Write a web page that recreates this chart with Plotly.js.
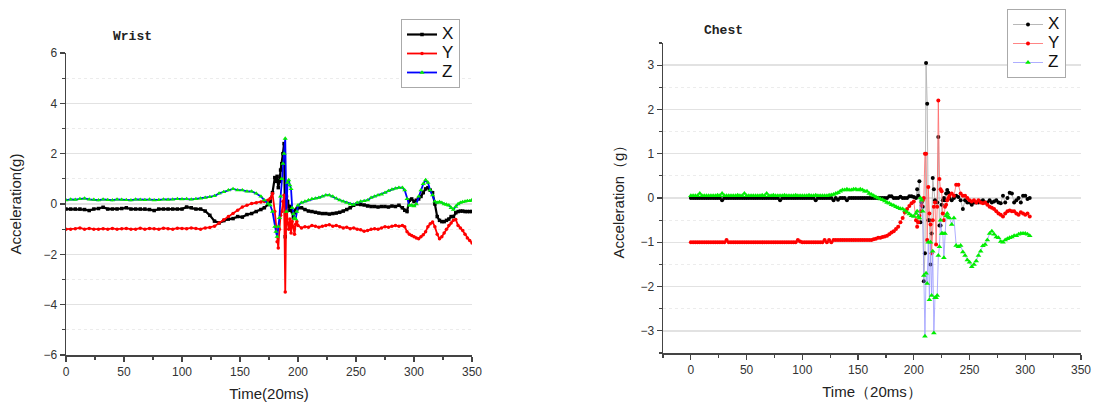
<!DOCTYPE html>
<html>
<head>
<meta charset="utf-8">
<script src="https://cdn.plot.ly/plotly-3.0.1.min.js"></script>
<style>html,body{margin:0;padding:0;background:#fff;}#chart{width:1093px;height:406px;}</style>
</head>
<body>
<div id="chart"></div>
<script>
// ---------- Wrist (left) ----------
var wristTime = [0,4,8,12,16,20,24,28,32,36,40,44,48,52,56,60,64,68,72,76,80,84,88,92,96,100,104,108,112,116,120,124,128,132,136,140,144,148,152,156,160,164,168,
  171,174,176,178,
  180,181,182,183,184,185,186,187,188,189,190,191,192,193,194,195,196,197,198,199,200,
  203,206,209,212,215,218,221,224,227,230,233,236,239,242,245,248,251,254,257,260,263,266,269,272,275,278,281,284,287,
  290,292,294,296,298,300,302,304,306,308,310,312,314,316,318,320,322,324,326,328,330,332,334,336,338,340,342,344,346,348,350];
var wristX = [-0.2,-0.2,-0.2,-0.2,-0.22,-0.26,-0.2,-0.18,-0.13,-0.2,-0.2,-0.2,-0.18,-0.15,-0.2,-0.2,-0.2,-0.2,-0.22,-0.26,-0.2,-0.2,-0.2,-0.2,-0.2,-0.2,-0.12,-0.15,-0.2,-0.2,-0.28,-0.45,-0.68,-0.75,-0.66,-0.6,-0.58,-0.5,-0.52,-0.42,-0.38,-0.3,-0.22,
  -0.15,-0.02,0.1,0.45,
  1.05,0.9,1.1,0.65,0.9,1.35,1.6,2.0,2.4,-1.3,0.3,0.1,-0.1,-0.25,-0.1,-0.3,-0.55,-0.35,-0.25,-0.2,-0.15,
  -0.15,-0.22,-0.28,-0.3,-0.33,-0.36,-0.38,-0.38,-0.4,-0.38,-0.36,-0.33,-0.28,-0.22,-0.15,-0.05,0.0,-0.02,-0.04,-0.08,-0.1,-0.1,-0.12,-0.1,-0.1,-0.12,-0.08,-0.1,-0.05,
  -0.15,-0.25,-0.3,0.15,0.2,0.1,0.15,0.2,0.3,0.45,0.6,0.65,0.55,0.45,0.0,-0.5,-0.65,-0.7,-0.7,-0.65,-0.6,-0.5,-0.5,-0.35,-0.3,-0.28,-0.28,-0.3,-0.3,-0.3,-0.3];
var wristY = [-1.0,-1.0,-0.98,-0.95,-1.0,-0.97,-1.0,-1.0,-0.98,-1.0,-0.97,-1.0,-0.98,-0.97,-1.0,-1.0,-0.96,-1.0,-0.97,-0.98,-1.0,-0.96,-0.98,-1.0,-0.96,-0.97,-0.98,-0.95,-0.97,-1.0,-0.95,-0.93,-0.88,-0.75,-0.63,-0.5,-0.38,-0.25,-0.12,-0.05,0.02,0.05,0.08,
  0.1,0.15,0.22,0.42,
  -0.3,-0.9,-1.5,-1.75,-1.0,-0.45,-0.3,0.1,0.35,-3.5,0.3,-0.75,-1.0,-0.6,-1.15,-0.7,-0.9,-1.2,-0.8,-0.7,-0.85,
  -0.95,-0.9,-0.92,-0.85,-0.88,-0.92,-0.88,-0.85,-0.82,-0.88,-0.85,-0.9,-0.95,-0.92,-0.98,-0.95,-1.0,-1.02,-1.08,-1.05,-1.0,-0.98,-1.0,-0.95,-0.9,-0.92,-0.88,-0.85,-0.88,
  -0.85,-0.9,-1.1,-1.2,-1.25,-1.3,-1.35,-1.38,-1.3,-1.22,-1.1,-0.9,-0.78,-0.72,-0.9,-1.2,-1.38,-1.3,-1.15,-1.0,-0.85,-0.75,-0.65,-0.62,-0.85,-0.95,-1.05,-1.2,-1.35,-1.45,-1.55];
var wristZ = [0.15,0.18,0.17,0.2,0.22,0.18,0.17,0.15,0.18,0.16,0.15,0.18,0.17,0.16,0.15,0.18,0.17,0.16,0.18,0.15,0.16,0.18,0.17,0.18,0.2,0.19,0.2,0.18,0.2,0.22,0.25,0.28,0.32,0.42,0.48,0.55,0.6,0.55,0.55,0.5,0.5,0.42,0.3,
  0.15,0.02,-0.04,-0.3,
  -0.9,-1.1,-1.3,-0.9,-0.55,0.3,1.0,1.6,2.0,2.6,-0.3,0.85,0.95,0.75,0.6,-0.15,-0.4,-0.55,-0.6,-0.3,-0.05,
  0.05,0.1,0.15,0.2,0.22,0.25,0.3,0.35,0.35,0.3,0.22,0.15,0.1,0.05,0.0,-0.02,0.05,0.1,0.12,0.15,0.25,0.3,0.35,0.38,0.45,0.52,0.58,0.62,0.65,
  0.65,0.55,0.2,-0.05,-0.05,-0.08,0.0,0.3,0.55,0.8,0.95,0.85,0.55,0.35,0.1,0.05,0.08,0.05,0.0,-0.02,-0.05,-0.15,-0.22,-0.1,0.0,0.05,0.08,0.1,0.12,0.12,0.16];

// ---------- Chest (right) ----------
var chestTime = [0,2,4,6,8,10,12,14,16,18,20,22,24,26,28,30,32,34,36,38,40,42,44,46,48,50,52,54,56,58,60,62,64,66,68,70,72,74,76,78,
  80,82,84,86,88,90,92,94,96,98,100,102,104,106,108,110,112,114,116,118,120,122,124,126,128,130,132,134,136,138,
  140,142,144,146,148,150,152,154,156,158,160,162,164,166,168,170,172,174,176,178,180,182,184,186,188,190,192,194,196,198,200,
  202,203,204,205,206,207,208,209,210,211,212,213,214,215,216,217,218,219,220,221,222,223,224,225,226,227,228,229,230,231,232,
  234,236,238,240,242,244,246,248,250,252,254,256,258,260,262,264,266,268,270,272,274,276,278,280,282,284,286,288,290,292,294,296,298,300,302,304];
var chestX = [0,0,0,0,0, 0,0,0,0,0, 0,0,0,0,-0.05, 0,0,0,0,0, 0,0,0,0,0, 0,0,0,0,0, 0,0,0,0,0, 0,0,0,0,0,
  -0.05,0,0,0,0, 0,0,0,0,0, 0,0,0,0,0, 0,-0.05,0,0,0, 0,0,0,0,-0.05, 0,-0.04,0,0,0,
  -0.05,0,0,0,0, 0,0,0,0,0, 0,0,0,0,0, 0,0,0,0,0.04, 0.04,0,0,0,0.03, 0,0,0,0.04,0.04, 0.02,
  0.0,0.2,0.05,0.38,-0.55,-0.1,-0.2,-1.88,-1.25,3.05,2.13,-0.5,-0.5,-1.5,-0.8,0.45,0.2,-0.05,-0.08,-0.1,1.38,-0.62,-0.62,-0.15,-0.05,0.0,-0.05,0.1,0.18,0.12,0.0,
  -0.05,0.0,0.05,0.02,-0.05,-0.25,-0.05,-0.1,-0.1,-0.15,-0.1,-0.1,-0.1,-0.08,-0.05,-0.1,-0.1,-0.05,-0.1,-0.08,-0.05,-0.1,-0.12,0.05,-0.1,0.0,0.12,0.1,-0.1,-0.05,0.0,-0.1,0.05,0.05,-0.02,0.0];
var chestY = [-1,-1,-1,-1,-1, -1,-1,-1,-1,-1, -1,-1,-1,-1,-1, -1,-0.95,-1,-1,-1, -1,-1,-1,-1,-1, -1,-1,-1,-1,-1, -1,-1,-1,-1,-1, -1,-1,-1,-1,-1,
  -1,-1,-1,-1,-1, -1,-1,-1,-0.95,-0.98, -1,-1,-1,-1,-1, -1,-1,-1,-1,-1, -0.95,-1,-0.95,-1,-0.95, -0.95,-0.95,-0.95,-0.95,-0.95,
  -0.95,-0.95,-0.95,-0.95,-0.95, -0.95,-0.95,-0.95,-0.95,-0.95, -0.95,-0.95,-0.93,-0.92,-0.9, -0.9,-0.88,-0.87,-0.85,-0.82, -0.78,-0.75,-0.7,-0.65,-0.55, -0.45,-0.33,-0.25,-0.18,-0.12, -0.08,
  -0.5,-0.65,-0.55,-0.4,-0.3,-0.17,-0.05,0.0,1.0,1.0,-0.95,0.25,-0.35,-0.6,-1.25,-0.5,-0.2,-0.1,-1.05,-0.2,2.2,0.43,0.2,0.15,-0.35,-0.5,-0.2,-0.15,-0.05,0.0,0.05,
  0.1,0.05,0.3,0.3,0.1,0.05,0.05,0.0,-0.05,-0.08,-0.05,-0.1,-0.05,-0.1,-0.12,-0.1,-0.15,-0.2,-0.22,-0.25,-0.3,-0.35,-0.38,-0.42,-0.35,-0.3,-0.28,-0.3,-0.3,-0.35,-0.38,-0.32,-0.35,-0.38,-0.35,-0.42];
var chestZ = [0.05,0.05,0.05,0.05,0.1, 0.05,0.05,0.05,0.05,0.05, 0.05,0.05,0.06,0.05,0.1, 0.05,0.05,0.05,0.05,0.05, 0.05,0.06,0.05,0.05,0.1, 0.05,0.05,0.05,0.05,0.05, 0.05,0.05,0.06,0.05,0.1, 0.05,0.05,0.06,0.05,0.05,
  0.05,0.05,0.06,0.05,0.05, 0.05,0.05,0.06,0.05,0.05, 0.05,0.05,0.05,0.06,0.05, 0.05,0.06,0.05,0.05,0.05, 0.05,0.05,0.06,0.07,0.08, 0.1,0.12,0.15,0.18,0.18,
  0.2,0.18,0.18,0.2,0.2, 0.18,0.2,0.18,0.15,0.15, 0.1,0.08,0.05,0.02,0.0, -0.02,-0.04,-0.07,-0.1,-0.12, -0.15,-0.17,-0.2,-0.22,-0.24, -0.25,-0.28,-0.32,-0.36,-0.4, -0.42,
  -0.35,-0.3,-0.42,-0.45,0.0,-0.05,-0.3,-1.75,-3.12,-1.7,-1.93,-1.0,-2.3,-1.0,-2.2,-1.2,-3.05,-2.25,-2.25,-2.2,-1.3,-1.1,-0.5,-0.8,-0.8,-1.35,-0.8,-0.4,-0.35,-0.43,-0.45,
  -0.6,-0.45,-1.07,-1.1,-1.07,-1.22,-1.3,-1.4,-1.45,-1.55,-1.5,-1.42,-1.3,-1.2,-1.08,-1.05,-0.95,-0.8,-0.75,-0.82,-0.88,-0.9,-0.98,-1.0,-0.95,-0.92,-0.9,-0.88,-0.85,-0.85,-0.82,-0.8,-0.8,-0.8,-0.82,-0.85];

var seriesNames = ['X', 'Y', 'Z'];

var W = 1093, H = 406;
function dx(a, b) { return [a / W, b / W]; }
function dy(top, bottom) { return [1 - bottom / H, 1 - top / H]; }

var tickFont = {family: 'Liberation Sans, Arial, sans-serif', size: 12, color: '#333'};
var titleFont = {family: 'Liberation Sans, Arial, sans-serif', size: 15, color: '#222'};
function legendName(n) { return '<span style="font-size:17px">' + n + '</span>'; }

var traces = [
  {x: wristTime, y: wristX, name: legendName(seriesNames[0]), mode: 'lines+markers', xaxis: 'x', yaxis: 'y', legend: 'legend',
   line: {color: '#000', width: 2.2}, marker: {symbol: 'square', size: 3.5, color: '#000'}},
  {x: wristTime, y: wristY, name: legendName(seriesNames[1]), mode: 'lines+markers', xaxis: 'x', yaxis: 'y', legend: 'legend',
   line: {color: '#ff0000', width: 1.8}, marker: {symbol: 'circle', size: 3.5, color: '#ff0000'}},
  {x: wristTime, y: wristZ, name: legendName(seriesNames[2]), mode: 'lines+markers', xaxis: 'x', yaxis: 'y', legend: 'legend',
   line: {color: '#0000ff', width: 1.8}, marker: {symbol: 'triangle-up', size: 4.5, color: '#00ee00'}},
  {x: chestTime, y: chestX, name: legendName(seriesNames[0]), mode: 'lines+markers', xaxis: 'x2', yaxis: 'y2', legend: 'legend2',
   line: {color: '#b8b8b8', width: 1}, marker: {symbol: 'circle', size: 4, color: '#000'}},
  {x: chestTime, y: chestY, name: legendName(seriesNames[1]), mode: 'lines+markers', xaxis: 'x2', yaxis: 'y2', legend: 'legend2',
   line: {color: '#ff6666', width: 0.8}, marker: {symbol: 'circle', size: 4, color: '#ff0000'}},
  {x: chestTime, y: chestZ, name: legendName(seriesNames[2]), mode: 'lines+markers', xaxis: 'x2', yaxis: 'y2', legend: 'legend2',
   line: {color: '#9999ff', width: 0.8}, marker: {symbol: 'triangle-up', size: 5, color: '#00ee00'}}
];

function xaxis(domain, range, title) {
  return {domain: domain, range: range,
    tickmode: 'linear', tick0: 0, dtick: 50, ticks: 'outside', ticklen: 5, tickwidth: 1.2, tickcolor: '#444',
    showline: true, linecolor: '#444', linewidth: 1.5, showgrid: false, zeroline: false,
    tickfont: tickFont,
    minor: {dtick: 25, tick0: 0, ticks: 'outside', ticklen: 3, tickcolor: '#444', showgrid: false},
    title: {text: title, font: titleFont, standoff: 10}};
}
function yaxis(domain, range, dtick, minorDtick, title, standoff) {
  return {domain: domain, range: range,
    tickmode: 'linear', tick0: 0, dtick: dtick, ticks: 'outside', ticklen: 5, tickwidth: 1.2, tickcolor: '#444',
    showline: true, linecolor: '#444', linewidth: 1.5, showgrid: true, gridcolor: '#e2e2e2', gridwidth: 1.5, zeroline: false,
    tickfont: tickFont,
    minor: {dtick: minorDtick, tick0: 0, ticks: 'outside', ticklen: 3, tickcolor: '#444', showgrid: true, gridcolor: '#ececec', gridwidth: 1, griddash: 'dot'},
    title: {text: title, font: titleFont, standoff: standoff}};
}

var xa1 = xaxis(dx(66, 472), [0, 350], 'Time(20ms)'); xa1.anchor = 'y';
var ya1 = yaxis(dy(53, 355), [-6, 6], 2, 1, 'Acceleration(g)', 18); ya1.anchor = 'x';
var xa2 = xaxis(dx(663, 1081), [-25, 350], 'Time（20ms）'); xa2.anchor = 'y2';
var ya2 = yaxis(dy(43, 353), [-3.5, 3.5], 1, 0.5, 'Acceleration（g）', 12); ya2.anchor = 'x2';

var legendStyle = function (x, y) {
  return {x: x / W, y: 1 - y / H, xanchor: 'left', yanchor: 'top', bgcolor: '#fff', bordercolor: '#aaa', borderwidth: 1,
    font: {family: 'Liberation Sans, Arial, sans-serif', size: 12, color: '#111'}, itemwidth: 30, tracegroupgap: 0};
};

var layout = {
  width: W, height: H, margin: {l: 0, r: 0, t: 0, b: 0},
  paper_bgcolor: '#fff', plot_bgcolor: '#fff',
  xaxis: xa1, yaxis: ya1, xaxis2: xa2, yaxis2: ya2,
  legend: legendStyle(401, 19),
  legend2: legendStyle(1007, 9),
  showlegend: true,
  annotations: [
    {text: '<b>Wrist</b>', x: 111 / W, y: 1 - 37 / H, xref: 'paper', yref: 'paper', xanchor: 'left', yanchor: 'middle', showarrow: false,
     font: {family: 'Liberation Mono, DejaVu Sans Mono, monospace', size: 13, color: '#222'}},
    {text: '<b>Chest</b>', x: 702 / W, y: 1 - 30 / H, xref: 'paper', yref: 'paper', xanchor: 'left', yanchor: 'middle', showarrow: false,
     font: {family: 'Liberation Mono, DejaVu Sans Mono, monospace', size: 13, color: '#222'}}
  ]
};

Plotly.newPlot('chart', traces, layout, {displayModeBar: false, staticPlot: true});
</script>
</body>
</html>
